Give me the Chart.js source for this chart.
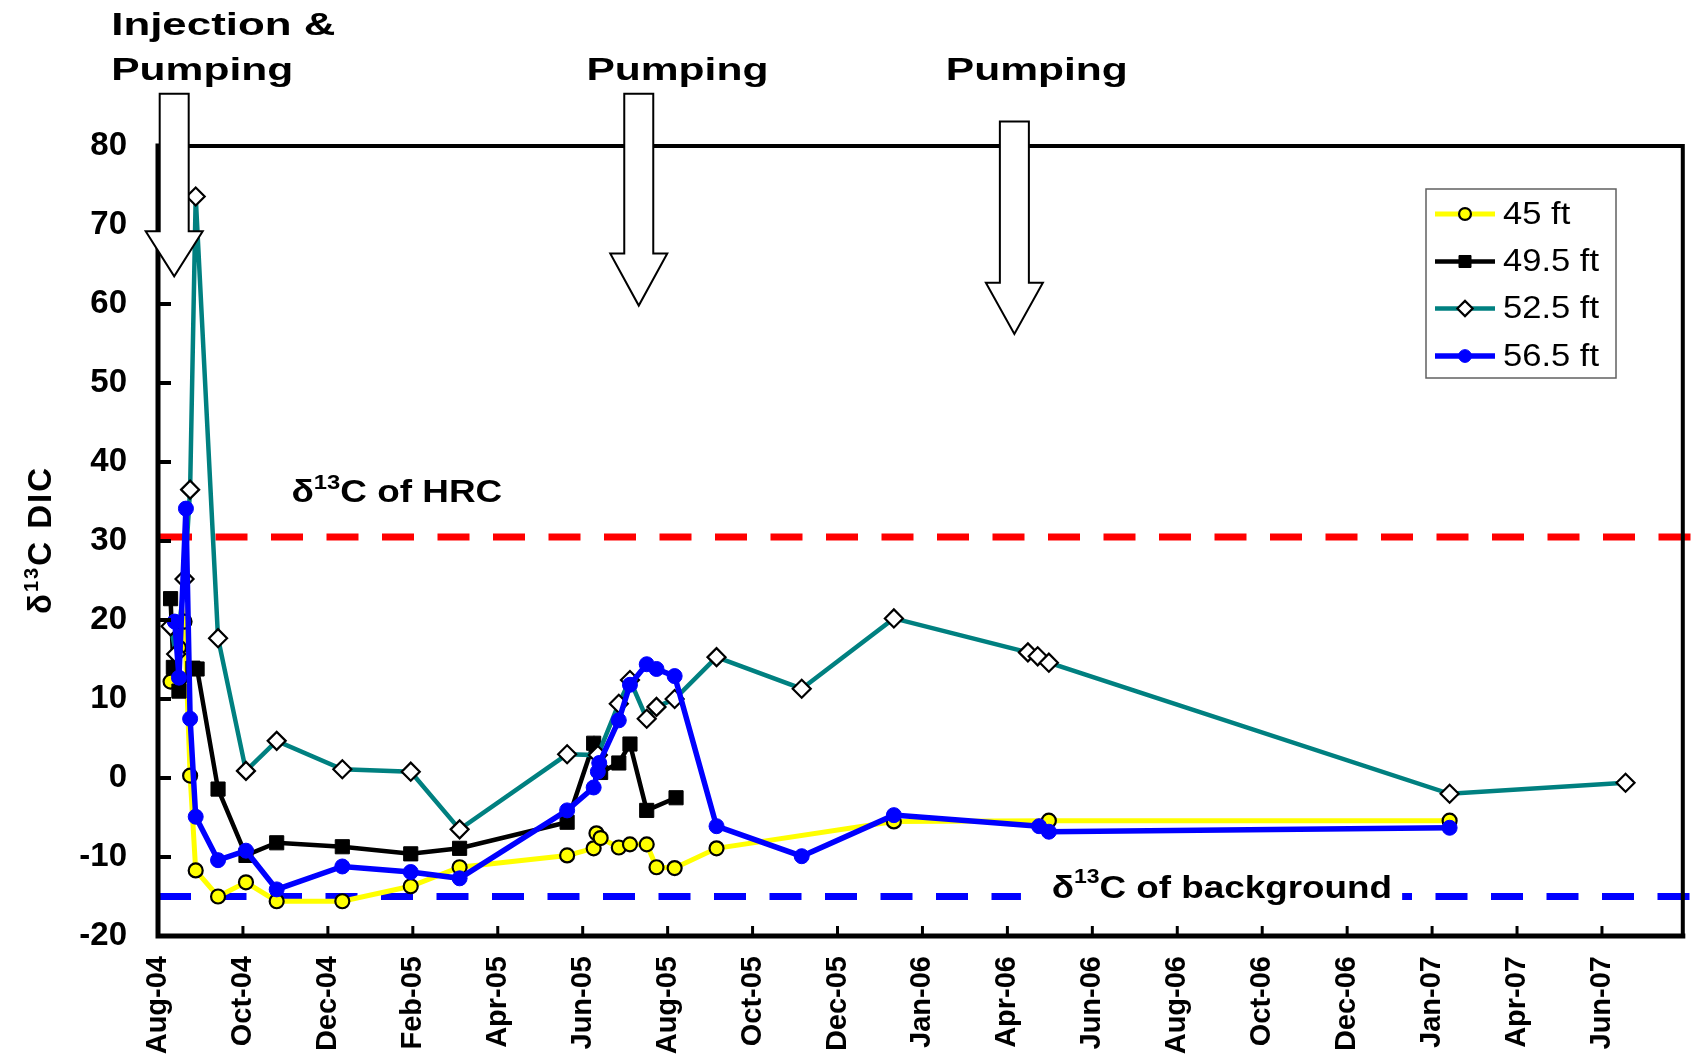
<!DOCTYPE html>
<html>
<head>
<meta charset="utf-8">
<script src="https://cdn.jsdelivr.net/npm/chart.js@4.4.1/dist/chart.umd.min.js"></script>
<style>
    html, body { margin: 0; padding: 0; background: #fff; }
    #wrap { width: 1694px; height: 1057px; }
</style>
</head>
<body>
<div id="wrap"><canvas id="dicChart" width="1694" height="1057"></canvas></div>
<script>
// sampling dates as days after 1 Aug 2004, d13C of DIC (per mil)
const days45 = [9, 15, 19, 23, 27, 43, 63, 85, 132, 181, 216, 293, 312, 314, 317, 330, 338, 350, 357, 370, 400, 527, 638, 925];
const dic45 = [12.2, 16.5, 19.8, 0.3, -11.7, -15.0, -13.2, -15.6, -15.6, -13.7, -11.3, -9.8, -8.9, -7.0, -7.6, -8.8, -8.4, -8.4, -11.3, -11.4, -8.9, -5.5, -5.4, -5.4];

const days49 = [9, 11, 15, 25, 28, 43, 63, 85, 132, 181, 216, 293, 312, 317, 330, 338, 350, 371];
const dic49 = [22.7, 14.0, 11.0, 13.9, 13.8, -1.4, -9.8, -8.2, -8.7, -9.6, -8.9, -5.6, 4.4, 0.7, 1.9, 4.3, -4.1, -2.5];

const days52 = [9, 13, 19, 23, 27, 43, 63, 85, 132, 181, 216, 293, 315, 330, 338, 350, 357, 370, 400, 461, 527, 623, 630, 638, 925, 1051];
const dic52 = [19.2, 15.7, 25.2, 36.5, 73.6, 17.7, 0.9, 4.7, 1.1, 0.8, -6.5, 3.0, 2.9, 9.4, 12.4, 7.5, 9.0, 10.0, 15.3, 11.3, 20.2, 15.9, 15.4, 14.6, -2.0, -0.6];

const days56 = [12, 15, 20, 23, 27, 43, 63, 85, 132, 181, 216, 293, 312, 315, 316, 330, 338, 350, 357, 370, 400, 461, 527, 631, 638, 925];
const dic56 = [19.8, 12.7, 34.1, 7.5, -4.9, -10.4, -9.2, -14.1, -11.2, -11.9, -12.7, -4.1, -1.2, 0.8, 1.9, 7.3, 11.8, 14.4, 13.8, 12.9, -6.1, -9.9, -4.7, -6.1, -6.8, -6.3];

const seriesLabels = ['45 ft', '49.5 ft', '52.5 ft', '56.5 ft'];

// excel date axis: major unit ~60.8 days, labels as printed
const tickLabels = ['Aug-04', 'Oct-04', 'Dec-04', 'Feb-05', 'Apr-05', 'Jun-05', 'Aug-05', 'Oct-05', 'Dec-05',
    'Jan-06', 'Apr-06', 'Jun-06', 'Aug-06', 'Oct-06', 'Dec-06', 'Jan-07', 'Apr-07', 'Jun-07'];
const TICK_STEP = 60.83;
const X_MAX = 1092;

const Y_MIN = -20;
const Y_MAX = 80;
const Y_STEP = 10;

const HRC_D13C = 30.5;
const BACKGROUND_D13C = -15;

// pumping events: arrow centre (day), top / neck / tip (value units)
const pumpArrows = [
    { day: 11.6, top: 86.6, neck: 69.2, tip: 63.5 },
    { day: 344.3, top: 86.6, neck: 66.4, tip: 59.8 },
    { day: 613.3, top: 83.1, neck: 62.7, tip: 56.2 }
];

const FONT = "'Liberation Sans', Arial, sans-serif";

function toPoints(days, values) {
    return days.map((d, i) => ({ x: d, y: values[i] }));
}

function drawRich(ctx, parts, x, y, sx) {
    ctx.save();
    ctx.translate(x, y);
    ctx.scale(sx, 1);
    let cx = 0;
    for (const p of parts) {
        ctx.font = p.font;
        ctx.letterSpacing = p.spacing || '0px';
        ctx.fillText(p.text, cx, -(p.rise || 0));
        cx += ctx.measureText(p.text).width;
    }
    ctx.restore();
    return cx * sx;
}

function dashedLine(ctx, x0, x1, y, color) {
    ctx.save();
    ctx.strokeStyle = color;
    ctx.lineWidth = 7;
    ctx.setLineDash([32, 23.5]);
    ctx.beginPath();
    ctx.moveTo(x0, y);
    ctx.lineTo(x1, y);
    ctx.stroke();
    ctx.restore();
}

function blockArrow(ctx, cx, top, neck, tip) {
    ctx.save();
    ctx.beginPath();
    ctx.moveTo(cx - 14.5, top);
    ctx.lineTo(cx + 14.5, top);
    ctx.lineTo(cx + 14.5, neck);
    ctx.lineTo(cx + 28.5, neck);
    ctx.lineTo(cx, tip);
    ctx.lineTo(cx - 28.5, neck);
    ctx.lineTo(cx - 14.5, neck);
    ctx.closePath();
    ctx.fillStyle = '#fff';
    ctx.fill();
    ctx.strokeStyle = '#000';
    ctx.lineWidth = 2;
    ctx.stroke();
    ctx.restore();
}

const decorations = {
    id: 'decorations',
    beforeDatasetsDraw(chart) {
        const { ctx, chartArea: a, scales: { x, y } } = chart;

        dashedLine(ctx, a.left + 2, chart.width, y.getPixelForValue(HRC_D13C), '#ff0000');
        dashedLine(ctx, a.left + 1, chart.width, y.getPixelForValue(BACKGROUND_D13C), '#0000ff');

        ctx.save();
        ctx.fillStyle = '#000';
        ctx.textBaseline = 'alphabetic';
        ctx.textAlign = 'left';

        // HRC label
        const hx = x.getPixelForValue(95.6), hy = y.getPixelForValue(35.0);
        drawRich(ctx, [
            { text: 'δ', font: `bold 31px ${FONT}` },
            { text: '13', font: `bold 20px ${FONT}`, rise: 12.4 },
            { text: 'C of HRC', font: `bold 31px ${FONT}` }
        ], hx, hy, 1.19);

        // background label on a white box over the dashes
        const bx0 = x.getPixelForValue(618), bx1 = x.getPixelForValue(891);
        const by = y.getPixelForValue(BACKGROUND_D13C);
        ctx.fillStyle = '#fff';
        ctx.fillRect(bx0, by - 30, bx1 - bx0, 40);
        ctx.fillStyle = '#000';
        drawRich(ctx, [
            { text: 'δ', font: `bold 32px ${FONT}` },
            { text: '13', font: `bold 20px ${FONT}`, rise: 14.7 },
            { text: 'C of background', font: `bold 32px ${FONT}` }
        ], x.getPixelForValue(640), y.getPixelForValue(-15.15), 1.15);
        ctx.restore();
    },
    afterDatasetsDraw(chart) {
        const { ctx, chartArea: a, scales: { x, y } } = chart;
        ctx.save();

        // frame
        ctx.strokeStyle = '#000';
        ctx.lineCap = 'square';
        ctx.lineWidth = 4;
        ctx.beginPath();
        ctx.moveTo(a.left, a.top);
        ctx.lineTo(a.right, a.top);
        ctx.lineTo(a.right, a.bottom);
        ctx.stroke();
        ctx.lineWidth = 5;
        ctx.beginPath();
        ctx.moveTo(a.left, a.top);
        ctx.lineTo(a.left, a.bottom);
        ctx.lineTo(a.right, a.bottom);
        ctx.stroke();

        // inside tick marks
        ctx.lineCap = 'butt';
        ctx.lineWidth = 4;
        for (let v = Y_MIN + Y_STEP; v < Y_MAX; v += Y_STEP) {
            const py = y.getPixelForValue(v);
            ctx.beginPath();
            ctx.moveTo(a.left, py);
            ctx.lineTo(a.left + 13, py);
            ctx.stroke();
        }
        ctx.lineWidth = 3;
        for (let i = 1; i < tickLabels.length; i++) {
            const px = x.getPixelForValue(i * TICK_STEP);
            ctx.beginPath();
            ctx.moveTo(px, a.bottom);
            ctx.lineTo(px, a.bottom - 10);
            ctx.stroke();
        }

        // y axis title, reads bottom to top
        ctx.save();
        ctx.translate(51, 540);
        ctx.rotate(-Math.PI / 2);
        ctx.fillStyle = '#000';
        ctx.textBaseline = 'alphabetic';
        ctx.textAlign = 'left';
        ctx.letterSpacing = '2px';
        const titleParts = [
            { text: 'δ', font: `bold 33px ${FONT}` },
            { text: '13', font: `bold 20px ${FONT}`, rise: 13.5 },
            { text: 'C DIC', font: `bold 33px ${FONT}` }
        ];
        let tw = 0;
        for (const p of titleParts) { ctx.font = p.font; tw += ctx.measureText(p.text).width; }
        let tx = -tw / 2;
        for (const p of titleParts) {
            ctx.font = p.font;
            ctx.fillText(p.text, tx, -(p.rise || 0));
            tx += ctx.measureText(p.text).width;
        }
        ctx.restore();

        // pumping arrows and captions
        pumpArrows.forEach(ar => {
            blockArrow(ctx, x.getPixelForValue(ar.day), y.getPixelForValue(ar.top),
                y.getPixelForValue(ar.neck), y.getPixelForValue(ar.tip));
        });
        ctx.fillStyle = '#000';
        ctx.textBaseline = 'alphabetic';
        ctx.textAlign = 'left';
        const capFont = `bold 32px ${FONT}`;
        drawRich(ctx, [{ text: 'Injection &', font: capFont }], x.getPixelForValue(-33.5), y.getPixelForValue(94.0), 1.37);
        drawRich(ctx, [{ text: 'Pumping', font: capFont }], x.getPixelForValue(-33.5), y.getPixelForValue(88.4), 1.33);
        drawRich(ctx, [{ text: 'Pumping', font: capFont }], x.getPixelForValue(306.8), y.getPixelForValue(88.4), 1.33);
        drawRich(ctx, [{ text: 'Pumping', font: capFont }], x.getPixelForValue(564.2), y.getPixelForValue(88.4), 1.33);

        // legend box
        const lx = 1426, ly = 189, lw = 190, lh = 189;
        ctx.fillStyle = '#fff';
        ctx.fillRect(lx, ly, lw, lh);
        ctx.strokeStyle = '#606060';
        ctx.lineWidth = 1.5;
        ctx.strokeRect(lx, ly, lw, lh);
        const rows = [214, 261.5, 308.5, 356];
        chart.data.datasets.forEach((ds, i) => {
            const ry = rows[i];
            ctx.strokeStyle = ds.borderColor;
            ctx.lineWidth = ds.borderWidth;
            ctx.beginPath();
            ctx.moveTo(1435, ry);
            ctx.lineTo(1495, ry);
            ctx.stroke();
            ctx.fillStyle = ds.pointBackgroundColor;
            ctx.strokeStyle = ds.pointBorderColor;
            ctx.lineWidth = ds.pointBorderWidth;
            Chart.helpers.drawPoint(ctx, {
                pointStyle: ds.pointStyle, radius: ds.pointRadius * 0.85, rotation: 0, borderWidth: ds.pointBorderWidth
            }, 1465, ry);
            ctx.fillStyle = '#000';
            ctx.textBaseline = 'middle';
            drawRich(ctx, [{ text: ds.label, font: `32px ${FONT}` }], 1503, ry + 1, 1.08);
        });

        ctx.restore();
    }
};

const chart = new Chart(document.getElementById('dicChart'), {
    type: 'line',
    data: {
        datasets: [
            {
                label: seriesLabels[0],
                data: toPoints(days45, dic45),
                borderColor: '#ffff00',
                backgroundColor: '#ffff00',
                borderWidth: 5,
                pointStyle: 'circle',
                pointRadius: 7,
                pointBackgroundColor: '#ffff00',
                pointBorderColor: '#000000',
                pointBorderWidth: 2.2,
                order: 3
            },
            {
                label: seriesLabels[1],
                data: toPoints(days49, dic49),
                borderColor: '#000000',
                backgroundColor: '#000000',
                borderWidth: 4.5,
                pointStyle: 'rect',
                pointRadius: 10,
                pointBackgroundColor: '#000000',
                pointBorderColor: '#000000',
                pointBorderWidth: 1,
                order: 2
            },
            {
                label: seriesLabels[2],
                data: toPoints(days52, dic52),
                borderColor: '#008080',
                backgroundColor: '#008080',
                borderWidth: 4.5,
                pointStyle: 'rectRot',
                pointRadius: 9,
                pointBackgroundColor: '#ffffff',
                pointBorderColor: '#000000',
                pointBorderWidth: 2.2,
                order: 1
            },
            {
                label: seriesLabels[3],
                data: toPoints(days56, dic56),
                borderColor: '#0000ff',
                backgroundColor: '#0000ff',
                borderWidth: 5.5,
                pointStyle: 'circle',
                pointRadius: 7.5,
                pointBackgroundColor: '#0000ff',
                pointBorderColor: '#0000ff',
                pointBorderWidth: 1,
                order: 0
            }
        ]
    },
    options: {
        responsive: false,
        animation: false,
        devicePixelRatio: 1,
        layout: { padding: { top: 146, right: 6, bottom: 0, left: 0 } },
        elements: { line: { tension: 0 } },
        plugins: {
            legend: { display: false },
            tooltip: { enabled: false }
        },
        scales: {
            x: {
                type: 'linear',
                min: 0,
                max: X_MAX,
                afterBuildTicks: (scale) => {
                    scale.ticks = tickLabels.map((l, i) => ({ value: i * TICK_STEP }));
                },
                afterFit: (scale) => { scale.height = 121; },
                grid: { display: false, drawTicks: false, tickLength: 0 },
                border: { display: false },
                ticks: {
                    autoSkip: false,
                    minRotation: 90,
                    maxRotation: 90,
                    padding: 20,
                    color: '#000',
                    font: { family: FONT, size: 29, weight: 'bold' },
                    callback: (value, index) => tickLabels[index]
                }
            },
            y: {
                min: Y_MIN,
                max: Y_MAX,
                afterFit: (scale) => { scale.width = 158; },
                grid: { display: false, drawTicks: false, tickLength: 0 },
                border: { display: false },
                ticks: {
                    stepSize: Y_STEP,
                    padding: 31,
                    color: '#000',
                    font: { family: FONT, size: 33, weight: 'bold' }
                }
            }
        }
    },
    plugins: [decorations]
});
</script>
</body>
</html>
